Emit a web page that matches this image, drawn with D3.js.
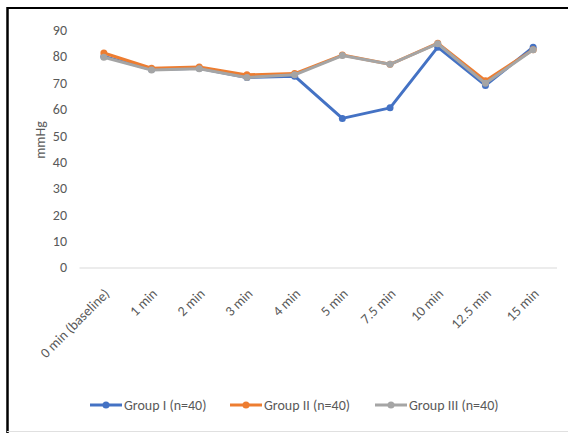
<!DOCTYPE html>
<html>
<head>
<meta charset="utf-8">
<script src="https://cdn.jsdelivr.net/npm/d3@7"></script>
<style>
  body { margin: 0; background: #fff; }
  text { font-family: Carlito, Lato, "Liberation Sans", sans-serif; fill: #595959; }
</style>
</head>
<body>
<div id="chart"></div>
<script>
let times = ["0 min (baseline)", "1 min", "2 min", "3 min", "4 min", "5 min", "7.5 min", "10 min", "12.5 min", "15 min"];
let group1 = [80, 75, 75.5, 72, 72.5, 56.5, 60.5, 83.5, 69, 83.5];
let group2 = [81.3, 75.5, 76, 73, 73.5, 80.5, 77, 85, 70.8, 82.5];
let group3 = [79.7, 74.8, 75.3, 72, 73, 80.3, 77, 84.8, 69.8, 82.5];
let seriesNames = ["Group I (n=40)", "Group II (n=40)", "Group III (n=40)"];
let yTicks = [0, 10, 20, 30, 40, 50, 60, 70, 80, 90];

let colors = ["#4472c4", "#ed7d31", "#a5a5a5"];
let series = [group1, group2, group3];

let svg = d3.select("#chart")
              .append("svg")
                .attr("width", 568)
                .attr("height", 433);

// frame of the screenshot
svg.append("line").attr("x1", 7).attr("x2", 568).attr("y1", 8).attr("y2", 8)
    .attr("stroke", "#000").attr("stroke-width", 2);
svg.append("line").attr("x1", 7.5).attr("x2", 7.5).attr("y1", 7).attr("y2", 433)
    .attr("stroke", "#000").attr("stroke-width", 2.5);
svg.append("line").attr("x1", 7).attr("x2", 568).attr("y1", 431.5).attr("y2", 431.5)
    .attr("stroke", "#e0e0e0").attr("stroke-width", 1);

let x = d3.scalePoint()
            .domain(times)
            .range([80, 557])
            .padding(0.5);

let y = d3.scaleLinear()
            .domain([0, 90])
            .range([267.5, 30]);

// y axis labels
let yAxis = d3.axisLeft(y).tickValues(yTicks).tickSize(0).tickPadding(0);
let gy = svg.append("g").attr("transform", "translate(67,0)").call(yAxis);
gy.select(".domain").remove();
gy.selectAll("text").style("font-size", "14px").attr("fill", "#595959");

// baseline
let xAxis = d3.axisBottom(x).tickSize(0).tickFormat("");
let gx = svg.append("g").attr("transform", "translate(0," + y(0) + ")").call(xAxis);
gx.select(".domain").attr("stroke", "#d9d9d9").attr("d", "M79.5,0.5H557");

// x labels, rotated
svg.append("g").selectAll("text")
    .data(times)
    .join("text")
      .attr("transform", function(d) { return "translate(" + (x(d) + 3) + ",291) rotate(-45)"; })
      .attr("text-anchor", "end")
      .attr("dy", "0.35em")
      .style("font-size", "14px")
      .text(function(d) { return d; });

// axis title
svg.append("text")
    .attr("transform", "translate(40,140) rotate(-90)")
    .attr("text-anchor", "middle")
    .attr("dy", "0.35em")
    .style("font-size", "14px")
    .text("mmHg");

let line = d3.line()
               .x(function(d, i) { return x(times[i]); })
               .y(function(d) { return y(d); });

series.forEach(function(s, k) {
  let g = svg.append("g");
  g.append("path")
      .attr("d", line(s))
      .attr("fill", "none")
      .attr("stroke", colors[k])
      .attr("stroke-width", 3)
      .attr("stroke-linejoin", "round");
  g.selectAll("circle")
      .data(s)
      .join("circle")
        .attr("cx", function(d, i) { return x(times[i]); })
        .attr("cy", function(d) { return y(d); })
        .attr("r", 3.5)
        .attr("fill", colors[k]);
});

// legend
let legendX = [90, 230, 375];
let leg = svg.append("g");
seriesNames.forEach(function(name, k) {
  let lg = leg.append("g").attr("transform", "translate(" + legendX[k] + ",405)");
  lg.append("line").attr("x1", 0).attr("x2", 32).attr("y1", 0).attr("y2", 0)
      .attr("stroke", colors[k]).attr("stroke-width", 3);
  lg.append("circle").attr("cx", 16).attr("cy", 0).attr("r", 3.5).attr("fill", colors[k]);
  lg.append("text").attr("x", 34).attr("dy", "0.35em")
      .style("font-size", "14px").text(name);
});
</script>
</body>
</html>
